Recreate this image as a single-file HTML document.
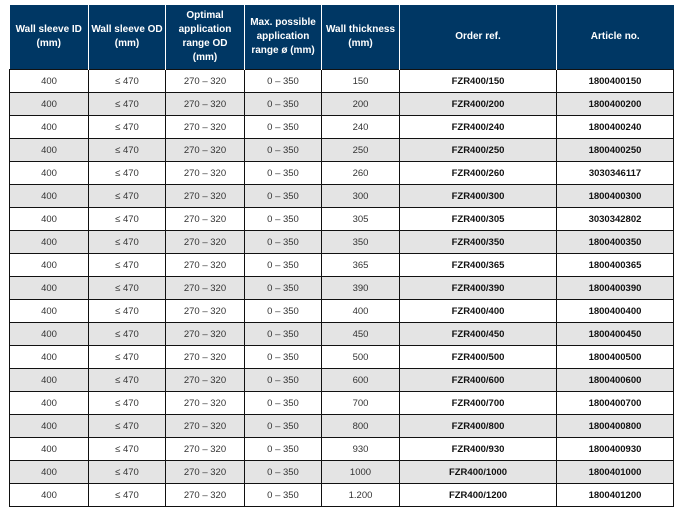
<!DOCTYPE html>
<html><head><style>
body{margin:0;background:#fff;}
table{position:absolute;left:9px;top:5px;border-collapse:collapse;font-family:"Liberation Sans",sans-serif;font-size:9.5px;table-layout:fixed;width:664px;}
th{background:#003764;color:#fff;font-weight:bold;height:64px;padding:0;border-left:1px solid #fff;line-height:14px;font-size:10px;white-space:nowrap;}
th:first-child{border-left:none;}
td{height:22px;text-align:center;border:1px solid #111;color:#333;padding:0;}
td.b{font-weight:bold;color:#111;}
tr:nth-child(even) td{background:#e4e4e4;}
tr:nth-child(odd) td{background:#fff;}
</style></head><body>
<table>
<colgroup><col style="width:79px"><col style="width:77px"><col style="width:79px"><col style="width:77px"><col style="width:78px"><col style="width:157px"><col style="width:117px"></colgroup>
<thead><tr><th>Wall sleeve ID<br>(mm)</th><th>Wall sleeve OD<br>(mm)</th><th>Optimal<br>application<br>range OD<br>(mm)</th><th>Max. possible<br>application<br>range ø (mm)</th><th>Wall thickness<br>(mm)</th><th>Order ref.</th><th>Article no.</th></tr></thead>
<tbody>
<tr><td>400</td><td>≤ 470</td><td>270 – 320</td><td>0 – 350</td><td>150</td><td class="b">FZR400/150</td><td class="b">1800400150</td></tr>
<tr><td>400</td><td>≤ 470</td><td>270 – 320</td><td>0 – 350</td><td>200</td><td class="b">FZR400/200</td><td class="b">1800400200</td></tr>
<tr><td>400</td><td>≤ 470</td><td>270 – 320</td><td>0 – 350</td><td>240</td><td class="b">FZR400/240</td><td class="b">1800400240</td></tr>
<tr><td>400</td><td>≤ 470</td><td>270 – 320</td><td>0 – 350</td><td>250</td><td class="b">FZR400/250</td><td class="b">1800400250</td></tr>
<tr><td>400</td><td>≤ 470</td><td>270 – 320</td><td>0 – 350</td><td>260</td><td class="b">FZR400/260</td><td class="b">3030346117</td></tr>
<tr><td>400</td><td>≤ 470</td><td>270 – 320</td><td>0 – 350</td><td>300</td><td class="b">FZR400/300</td><td class="b">1800400300</td></tr>
<tr><td>400</td><td>≤ 470</td><td>270 – 320</td><td>0 – 350</td><td>305</td><td class="b">FZR400/305</td><td class="b">3030342802</td></tr>
<tr><td>400</td><td>≤ 470</td><td>270 – 320</td><td>0 – 350</td><td>350</td><td class="b">FZR400/350</td><td class="b">1800400350</td></tr>
<tr><td>400</td><td>≤ 470</td><td>270 – 320</td><td>0 – 350</td><td>365</td><td class="b">FZR400/365</td><td class="b">1800400365</td></tr>
<tr><td>400</td><td>≤ 470</td><td>270 – 320</td><td>0 – 350</td><td>390</td><td class="b">FZR400/390</td><td class="b">1800400390</td></tr>
<tr><td>400</td><td>≤ 470</td><td>270 – 320</td><td>0 – 350</td><td>400</td><td class="b">FZR400/400</td><td class="b">1800400400</td></tr>
<tr><td>400</td><td>≤ 470</td><td>270 – 320</td><td>0 – 350</td><td>450</td><td class="b">FZR400/450</td><td class="b">1800400450</td></tr>
<tr><td>400</td><td>≤ 470</td><td>270 – 320</td><td>0 – 350</td><td>500</td><td class="b">FZR400/500</td><td class="b">1800400500</td></tr>
<tr><td>400</td><td>≤ 470</td><td>270 – 320</td><td>0 – 350</td><td>600</td><td class="b">FZR400/600</td><td class="b">1800400600</td></tr>
<tr><td>400</td><td>≤ 470</td><td>270 – 320</td><td>0 – 350</td><td>700</td><td class="b">FZR400/700</td><td class="b">1800400700</td></tr>
<tr><td>400</td><td>≤ 470</td><td>270 – 320</td><td>0 – 350</td><td>800</td><td class="b">FZR400/800</td><td class="b">1800400800</td></tr>
<tr><td>400</td><td>≤ 470</td><td>270 – 320</td><td>0 – 350</td><td>930</td><td class="b">FZR400/930</td><td class="b">1800400930</td></tr>
<tr><td>400</td><td>≤ 470</td><td>270 – 320</td><td>0 – 350</td><td>1000</td><td class="b">FZR400/1000</td><td class="b">1800401000</td></tr>
<tr><td>400</td><td>≤ 470</td><td>270 – 320</td><td>0 – 350</td><td>1.200</td><td class="b">FZR400/1200</td><td class="b">1800401200</td></tr>
</tbody></table>
</body></html>
